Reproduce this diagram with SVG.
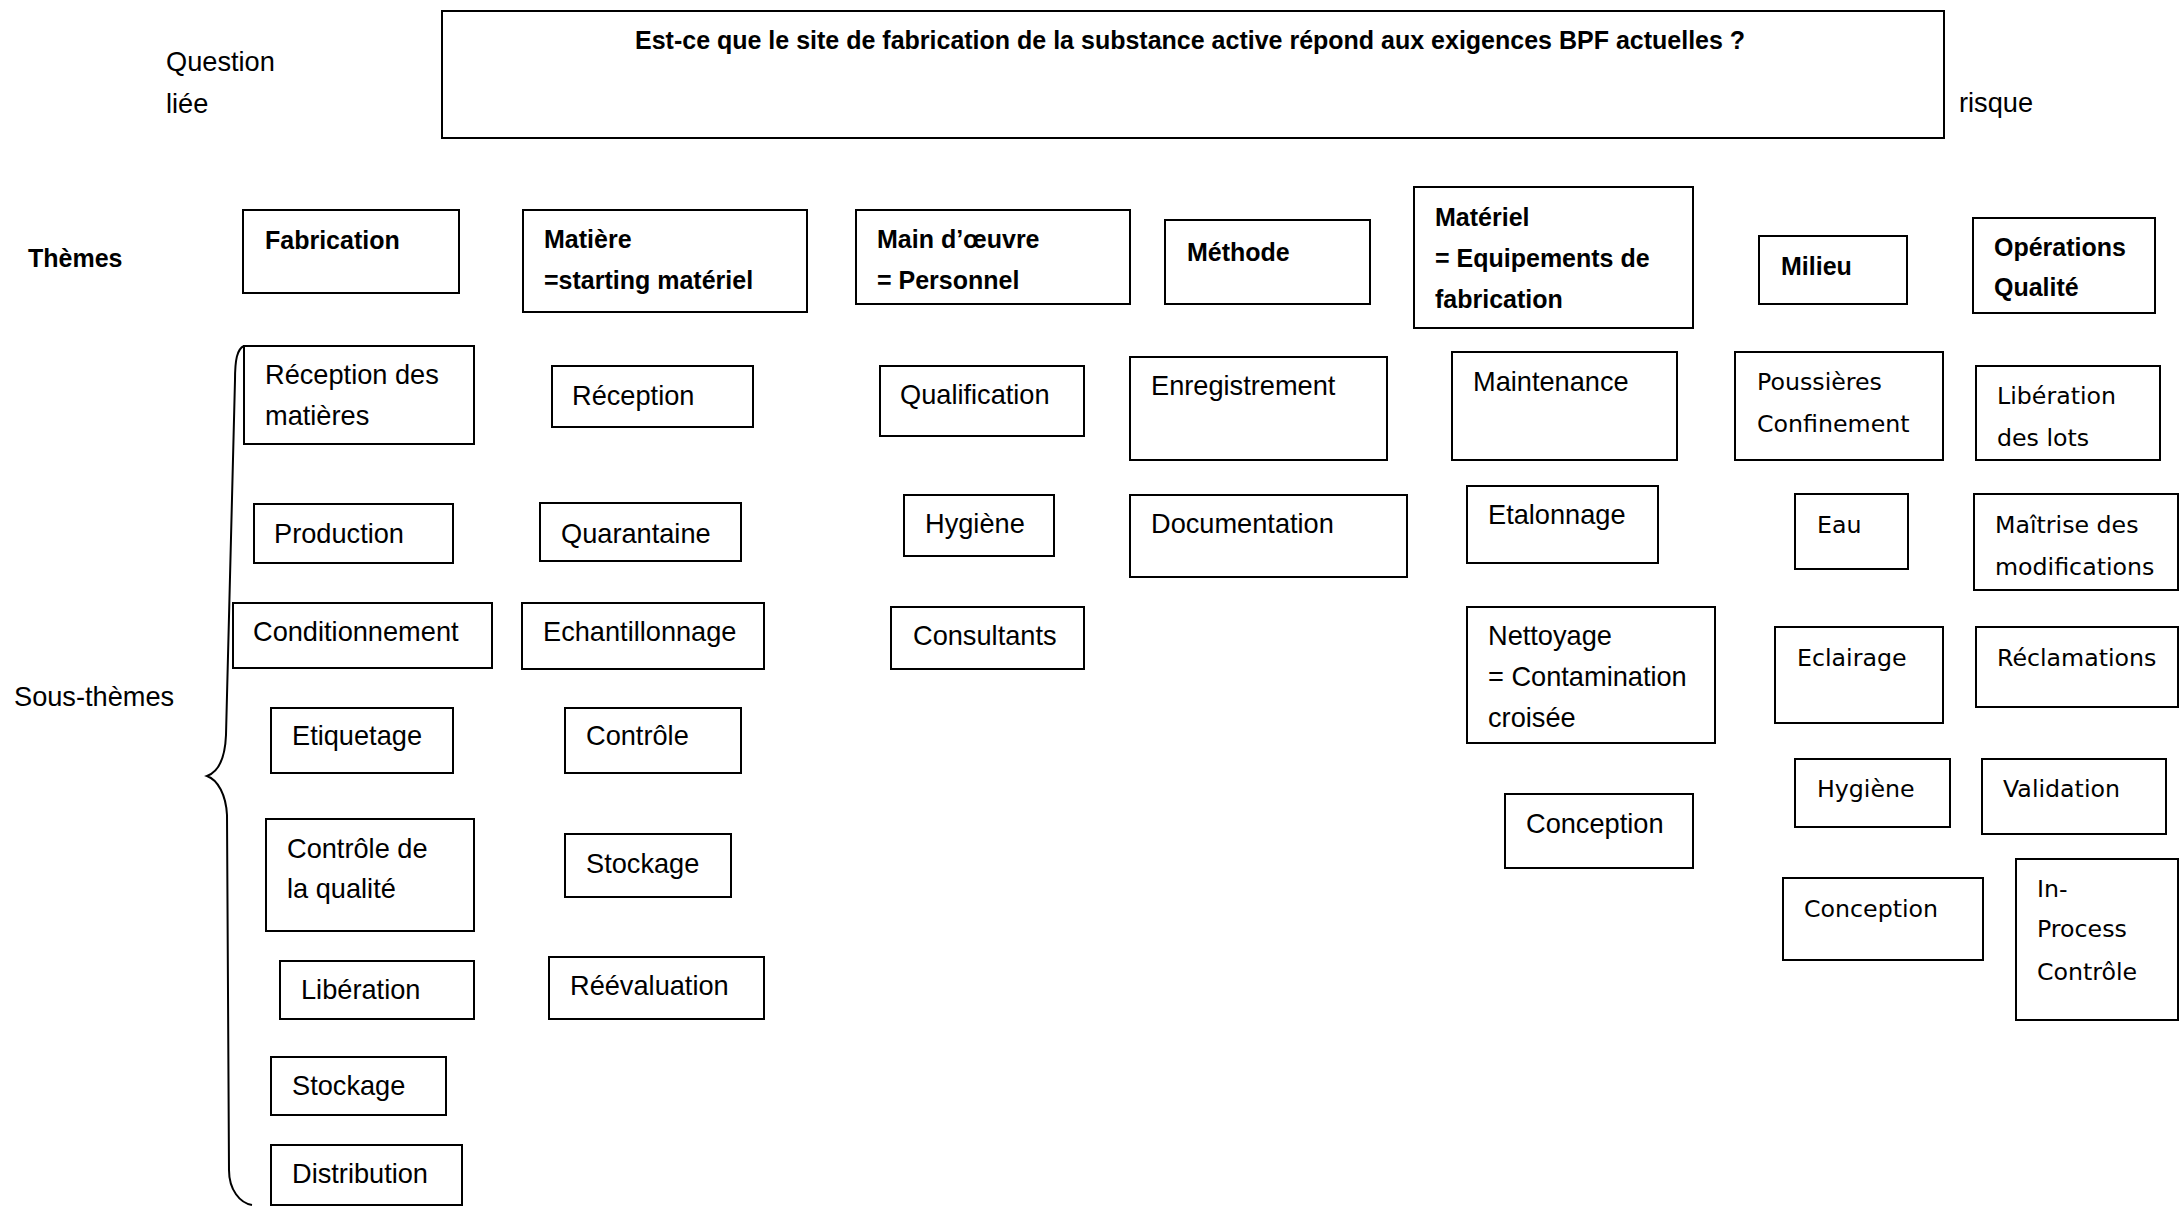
<svg xmlns="http://www.w3.org/2000/svg" width="2179" height="1208" viewBox="0 0 2179 1208">
<style>
.box{fill:#fff;stroke:#000;stroke-width:2}
.t{font-family:"Liberation Sans",Arial,sans-serif;font-size:27.2px;fill:#000}
.b{font-family:"Liberation Sans",Arial,sans-serif;font-size:25px;font-weight:bold;fill:#000}
.v{font-family:"DejaVu Sans",Verdana,sans-serif;font-size:23.7px;fill:#000}
.brace{fill:none;stroke:#000;stroke-width:2}
</style>
<rect x="0" y="0" width="2179" height="1208" fill="#fff"/>

<g id="labels">
<text class="t" x="166" y="71">Question</text>
<text class="t" x="166" y="113">liée</text>
<text class="t" x="1959" y="112">risque</text>
<text class="b" x="28" y="267">Thèmes</text>
<text class="t" x="14" y="706">Sous-thèmes</text>
</g>

<g id="question">
<rect class="box" x="442" y="11" width="1502" height="127"/>
<text class="b" x="635" y="49">Est-ce que le site de fabrication de la substance active répond aux exigences BPF actuelles ?</text>
</g>

<g id="connectors">
<path class="brace" d="M244,346 C237,349 235,360 235,380 L226,735 C225,760 218,772 207,776 C218,780 226,795 227,815 L229,1170 C229,1190 240,1203 252,1205"/>
</g>

<!-- Themes -->
<g id="theme-fabrication"><rect class="box" x="243" y="210" width="216" height="83"/><text class="b" x="265" y="249">Fabrication</text></g>
<g id="theme-matiere"><rect class="box" x="523" y="210" width="284" height="102"/><text class="b" x="544" y="248">Matière</text><text class="b" x="544" y="289">=starting matériel</text></g>
<g id="theme-main-oeuvre"><rect class="box" x="856" y="210" width="274" height="94"/><text class="b" x="877" y="248">Main d’œuvre</text><text class="b" x="877" y="289">= Personnel</text></g>
<g id="theme-methode"><rect class="box" x="1165" y="220" width="205" height="84"/><text class="b" x="1187" y="261">Méthode</text></g>
<g id="theme-materiel"><rect class="box" x="1414" y="187" width="279" height="141"/><text class="b" x="1435" y="226">Matériel</text><text class="b" x="1435" y="267">= Equipements de</text><text class="b" x="1435" y="308">fabrication</text></g>
<g id="theme-milieu"><rect class="box" x="1759" y="236" width="148" height="68"/><text class="b" x="1781" y="275">Milieu</text></g>
<g id="theme-operations"><rect class="box" x="1973" y="218" width="182" height="95"/><text class="b" x="1994" y="256">Opérations</text><text class="b" x="1994" y="296">Qualité</text></g>

<!-- Fabrication sub-themes -->
<g id="fab-reception"><rect class="box" x="244" y="346" width="230" height="98"/><text class="t" x="265" y="384">Réception des</text><text class="t" x="265" y="425">matières</text></g>
<g id="fab-production"><rect class="box" x="254" y="504" width="199" height="59"/><text class="t" x="274" y="543">Production</text></g>
<g id="fab-conditionnement"><rect class="box" x="233" y="603" width="259" height="65"/><text class="t" x="253" y="641">Conditionnement</text></g>
<g id="fab-etiquetage"><rect class="box" x="271" y="708" width="182" height="65"/><text class="t" x="292" y="745">Etiquetage</text></g>
<g id="fab-controle-qualite"><rect class="box" x="266" y="819" width="208" height="112"/><text class="t" x="287" y="858">Contrôle de</text><text class="t" x="287" y="898">la qualité</text></g>
<g id="fab-liberation"><rect class="box" x="280" y="961" width="194" height="58"/><text class="t" x="301" y="999">Libération</text></g>
<g id="fab-stockage"><rect class="box" x="271" y="1057" width="175" height="58"/><text class="t" x="292" y="1095">Stockage</text></g>
<g id="fab-distribution"><rect class="box" x="271" y="1145" width="191" height="60"/><text class="t" x="292" y="1183">Distribution</text></g>

<!-- Matière sub-themes -->
<g id="mat-reception"><rect class="box" x="552" y="366" width="201" height="61"/><text class="t" x="572" y="405">Réception</text></g>
<g id="mat-quarantaine"><rect class="box" x="540" y="503" width="201" height="58"/><text class="t" x="561" y="543">Quarantaine</text></g>
<g id="mat-echantillonnage"><rect class="box" x="522" y="603" width="242" height="66"/><text class="t" x="543" y="641">Echantillonnage</text></g>
<g id="mat-controle"><rect class="box" x="565" y="708" width="176" height="65"/><text class="t" x="586" y="745">Contrôle</text></g>
<g id="mat-stockage"><rect class="box" x="565" y="834" width="166" height="63"/><text class="t" x="586" y="873">Stockage</text></g>
<g id="mat-reevaluation"><rect class="box" x="549" y="957" width="215" height="62"/><text class="t" x="570" y="995">Réévaluation</text></g>

<!-- Main d'oeuvre sub-themes -->
<g id="mo-qualification"><rect class="box" x="880" y="366" width="204" height="70"/><text class="t" x="900" y="404">Qualification</text></g>
<g id="mo-hygiene"><rect class="box" x="904" y="495" width="150" height="61"/><text class="t" x="925" y="533">Hygiène</text></g>
<g id="mo-consultants"><rect class="box" x="891" y="607" width="193" height="62"/><text class="t" x="913" y="645">Consultants</text></g>

<!-- Méthode sub-themes -->
<g id="me-enregistrement"><rect class="box" x="1130" y="357" width="257" height="103"/><text class="t" x="1151" y="395">Enregistrement</text></g>
<g id="me-documentation"><rect class="box" x="1130" y="495" width="277" height="82"/><text class="t" x="1151" y="533">Documentation</text></g>

<!-- Matériel sub-themes -->
<g id="eq-maintenance"><rect class="box" x="1452" y="352" width="225" height="108"/><text class="t" x="1473" y="391">Maintenance</text></g>
<g id="eq-etalonnage"><rect class="box" x="1467" y="486" width="191" height="77"/><text class="t" x="1488" y="524">Etalonnage</text></g>
<g id="eq-nettoyage"><rect class="box" x="1467" y="607" width="248" height="136"/><text class="t" x="1488" y="645">Nettoyage</text><text class="t" x="1488" y="686">= Contamination</text><text class="t" x="1488" y="727">croisée</text></g>
<g id="eq-conception"><rect class="box" x="1505" y="794" width="188" height="74"/><text class="t" x="1526" y="833">Conception</text></g>

<!-- Milieu sub-themes -->
<g id="mi-poussieres"><rect class="box" x="1735" y="352" width="208" height="108"/><text class="v" x="1757" y="390">Poussières</text><text class="v" x="1757" y="432">Confinement</text></g>
<g id="mi-eau"><rect class="box" x="1795" y="494" width="113" height="75"/><text class="v" x="1817" y="533">Eau</text></g>
<g id="mi-eclairage"><rect class="box" x="1775" y="627" width="168" height="96"/><text class="v" x="1797" y="666">Eclairage</text></g>
<g id="mi-hygiene"><rect class="box" x="1795" y="759" width="155" height="68"/><text class="v" x="1817" y="797">Hygiène</text></g>
<g id="mi-conception"><rect class="box" x="1783" y="878" width="200" height="82"/><text class="v" x="1804" y="917">Conception</text></g>

<!-- Opérations Qualité sub-themes -->
<g id="oq-liberation"><rect class="box" x="1976" y="366" width="184" height="94"/><text class="v" x="1997" y="404">Libération</text><text class="v" x="1997" y="446">des lots</text></g>
<g id="oq-maitrise"><rect class="box" x="1974" y="494" width="204" height="96"/><text class="v" x="1995" y="533">Maîtrise des</text><text class="v" x="1995" y="575">modifications</text></g>
<g id="oq-reclamations"><rect class="box" x="1976" y="627" width="202" height="80"/><text class="v" x="1997" y="666">Réclamations</text></g>
<g id="oq-validation"><rect class="box" x="1982" y="759" width="184" height="75"/><text class="v" x="2003" y="797">Validation</text></g>
<g id="oq-inprocess"><rect class="box" x="2016" y="859" width="162" height="161"/><text class="v" x="2037" y="897">In-</text><text class="v" x="2037" y="937">Process</text><text class="v" x="2037" y="980">Contrôle</text></g>
</svg>
